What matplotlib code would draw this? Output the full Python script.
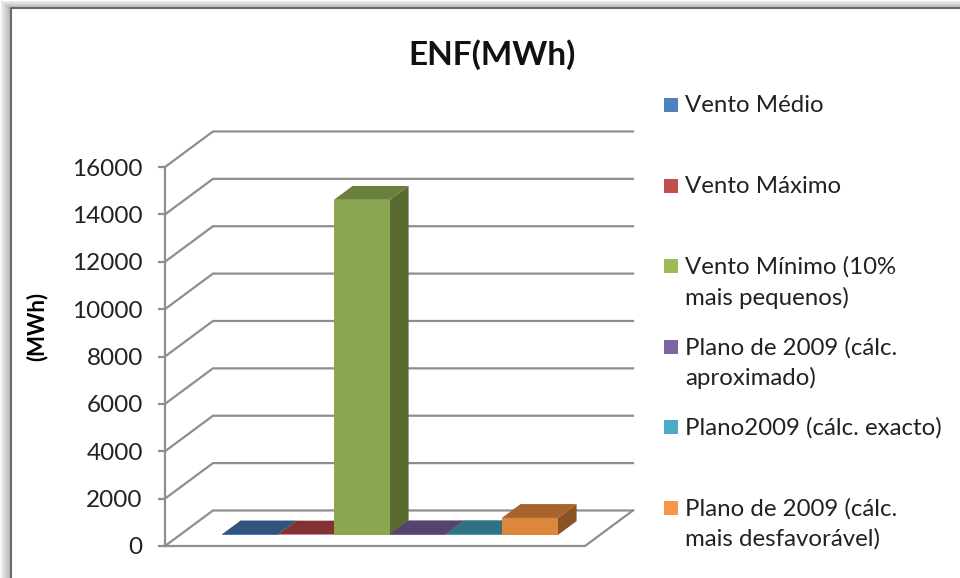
import matplotlib
matplotlib.use('Agg')
import matplotlib.pyplot as plt
from matplotlib.patches import Rectangle, Polygon
from matplotlib.lines import Line2D

plt.rcParams['font.family'] = ['Lato', 'DejaVu Sans']

# energia nao fornecida por cenario
series = ['Vento Médio', 'Vento Máximo', 'Vento Mínimo (10%\nmais pequenos)',
          'Plano de 2009 (cálc.\naproximado)', 'Plano2009 (cálc. exacto)',
          'Plano de 2009 (cálc.\nmais desfavorável)']
enf = [25, 20, 14150, 30, 35, 720]
yticks = [0, 2000, 4000, 6000, 8000, 10000, 12000, 14000, 16000]

# cores: frente, topo, lado
front = ['#4a7ab3', '#b54a47', '#8ba650', '#775d99', '#45a2ba', '#dd873d']
top   = ['#2f557f', '#843231', '#6a803a', '#574370', '#2e7384', '#a8622c']
side  = ['#284a70', '#6e2a29', '#5a6b32', '#4a385f', '#275f6e', '#8b5224']
legcol = ['#4f81bd', '#c0504d', '#9bbb59', '#8064a2', '#4bacc6', '#f79646']

GRID = '#8e8e8e'
XMAX = 7.5          # largura do plano frontal (unidades de barra)
DX, DY = 0.857, 1500  # profundidade da caixa 3D
F, B = 0.31, 0.39     # posicao e profundidade das barras

fig = plt.figure(figsize=(9.6, 5.78), dpi=100)

# moldura com sombra
for k in range(11):
    g = 0.93 - 0.025 * k
    fig.add_artist(Line2D([(k + 0.5) / 960] * 2, [0, 1 - (k + 0.5) / 578 * 0.7],
                          transform=fig.transFigure, color=(g, g, g), lw=0.75))
for k in range(8):
    g = 0.93 - 0.035 * k
    fig.add_artist(Line2D([(k + 0.5) / 960, 1], [1 - (k + 0.5) / 578] * 2,
                          transform=fig.transFigure, color=(g, g, g), lw=0.75))
fig.add_artist(Line2D([11 / 960, 11 / 960, 1], [0, 1 - 8 / 578, 1 - 8 / 578],
                      transform=fig.transFigure, color='#6a6a6a', lw=1.5))

ax = fig.add_axes([165 / 960, 32 / 578, 420 / 960, 379 / 578])
ax.set_xlim(0, XMAX)
ax.set_ylim(0, 16000)
ax.set_facecolor('none')
for s in ['top', 'right', 'bottom']:
    ax.spines[s].set_visible(False)
ax.spines['left'].set_color(GRID)
ax.spines['left'].set_linewidth(1.6)
ax.set_xticks([])
ax.set_yticks(yticks)
ax.tick_params(axis='y', length=5, width=1.6, color=GRID, pad=11,
               labelsize=17.5, labelcolor='#222222')
ax.set_ylabel('(MWh)', fontsize=16, fontweight='bold')
ax.yaxis.set_label_coords(-0.279, 0.58)

# paredes e chao
for v in yticks:
    ax.plot([0, DX, XMAX + DX], [v, v + DY, v + DY], color=GRID, lw=1.6,
            clip_on=False, zorder=1)
ax.plot([0, XMAX, XMAX + DX], [0, 0, DY], color=GRID, lw=1.6,
        clip_on=False, zorder=1)

# barras 3D
for i, v in enumerate(enf):
    x0 = 0.75 + i + F * DX
    y0 = F * DY
    bx, by = B * DX, B * DY
    z = 3 + i
    ax.add_patch(Polygon([(x0 + 1, y0), (x0 + 1 + bx, y0 + by),
                          (x0 + 1 + bx, y0 + v + by), (x0 + 1, y0 + v)],
                         closed=True, facecolor=side[i], edgecolor='none',
                         clip_on=False, zorder=z))
    ax.add_patch(Polygon([(x0, y0 + v), (x0 + 1, y0 + v),
                          (x0 + 1 + bx, y0 + v + by), (x0 + bx, y0 + v + by)],
                         closed=True, facecolor=top[i], edgecolor='none',
                         clip_on=False, zorder=z))
    ax.add_patch(Rectangle((x0, y0), 1, v, facecolor=front[i], edgecolor='none',
                           clip_on=False, zorder=z))

fig.text(492 / 960, 1 - 55 / 578, 'ENF(MWh)', ha='center', va='center',
         fontsize=24, fontweight='bold', color='#111111')

# legenda
for i, lab in enumerate(series):
    yc = 105 + i * 80.6
    fig.add_artist(Rectangle((664 / 960, 1 - (yc + 7) / 578), 14 / 960, 14 / 578,
                             transform=fig.transFigure, facecolor=legcol[i],
                             edgecolor='none'))
    fig.text(685 / 960, 1 - (yc - 10) / 578, lab, ha='left', va='top',
             fontsize=17.3, color='#222222', linespacing=1.5)

fig.savefig('out.png', dpi=100)
